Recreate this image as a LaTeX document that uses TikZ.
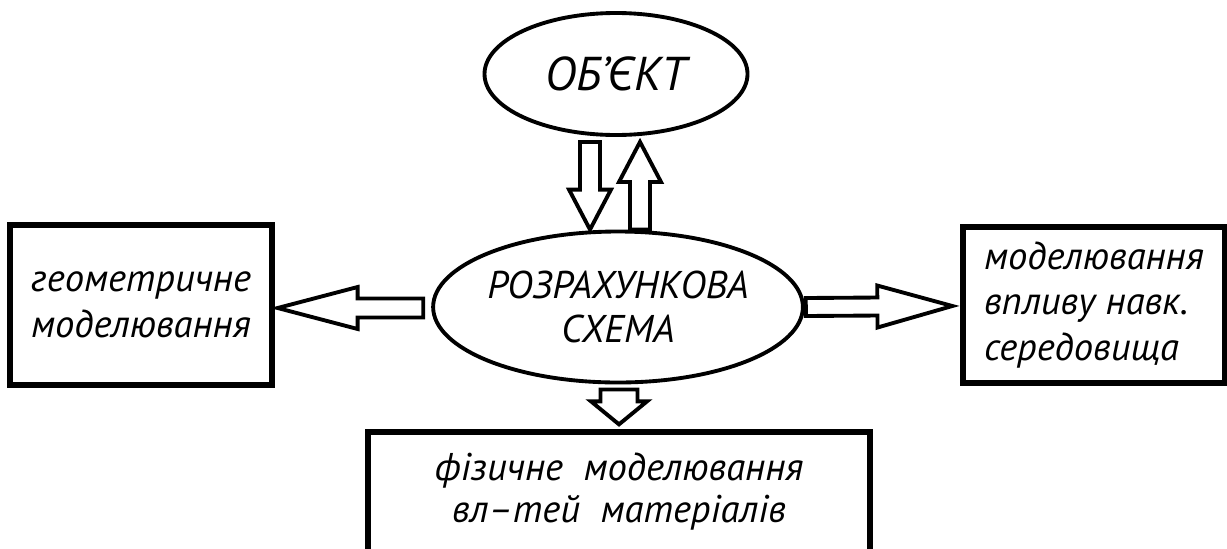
\documentclass[tikz,border=0pt]{standalone}
\usepackage{fontspec}
\setmainfont{PT Sans}
\usepackage{tikz}
\usetikzlibrary{shapes.geometric,positioning,calc}

\tikzset{
  arrshaft/.store in=\arrshaft, arrhead/.store in=\arrhead, arrlen/.store in=\arrlen,
  arrshaft=1mm, arrhead=2.1mm, arrlen=4mm,
  blockarr/.style={draw, line width=1.1pt, fill=white, line join=miter,
    to path={
      (\tikztotarget) coordinate (ba-t) (\tikztostart) coordinate (ba-s)
      ($(ba-t)!\arrlen!(ba-s)$) coordinate (ba-h)
      ($(ba-s)!\arrshaft!90:(ba-t)$)
      -- ($(ba-h)!\arrshaft!90:(ba-t)$)
      -- ($(ba-h)!\arrhead!90:(ba-t)$)
      -- (ba-t)
      -- ($(ba-h)!\arrhead!-90:(ba-t)$)
      -- ($(ba-h)!\arrshaft!-90:(ba-t)$)
      -- ($(ba-s)!\arrshaft!-90:(ba-t)$)
      -- cycle
    }},
  oval/.style={ellipse, draw, line width=1.1pt, inner sep=0pt, align=center,
    font=\fontsize{11}{12.5}\selectfont\itshape},
  box/.style={rectangle, draw, line width=1.5pt, inner sep=0pt,
    font=\fontsize{11}{13}\selectfont\itshape}
}

\begin{document}
\begin{tikzpicture}[x=0.1mm,y=-0.1mm]
  \useasboundingbox (0,0) rectangle (1227,548);
  % ellipses
  \node[oval,minimum width=26.3mm,minimum height=12.2mm,
        font=\fontsize{13.5}{15}\selectfont\itshape] (obj) at (616,74) {ОБ’ЄКТ};
  \node[oval,minimum width=36.7mm,minimum height=15.1mm] (calc) at (618,307) {РОЗРАХУНКОВА\\СХЕМА};
  % boxes
  \node[box,minimum width=26.2mm,minimum height=16mm,align=center] (geom) at (141,305) {геометричне\\моделювання};
  \node[box,minimum width=26.2mm,minimum height=15.6mm,align=left] (env) at (1094,305) {моделювання\\впливу навк.\\середовища};
  \node[box,minimum width=50.2mm,minimum height=12mm,align=center,
        font=\fontsize{11}{12}\selectfont\itshape] (phys) at (619,492) {фізичне\ \ моделювання\\вл–тей\ \ матеріалів};
  % object <-> scheme
  \path[blockarr,arrshaft=1mm,arrhead=2.1mm,arrlen=4mm] ($(obj.south)+(-26,5)$) to ($(calc.north)+(-28,0)$);
  \path[blockarr,arrshaft=1mm,arrhead=2.1mm,arrlen=4mm] ($(calc.north)+(22,0)$) to ($(obj.south)+(24,5)$);
  % outgoing
  \path[blockarr,arrshaft=0.95mm,arrhead=2.1mm,arrlen=8mm] ($(calc.west)+(-8,1)$) to ($(geom.east)+(3,3)$);
  \path[blockarr,arrshaft=0.9mm,arrhead=2.1mm,arrlen=7.5mm] ($(calc.east)+(1,0)$) to ($(env.west)+(-8,1)$);
  \path[blockarr,arrshaft=1.85mm,arrhead=2.8mm,arrlen=2.3mm] ($(calc.south)+(1,5)$) to ($(phys.north)+(0,-5)$);
\end{tikzpicture}
\end{document}
